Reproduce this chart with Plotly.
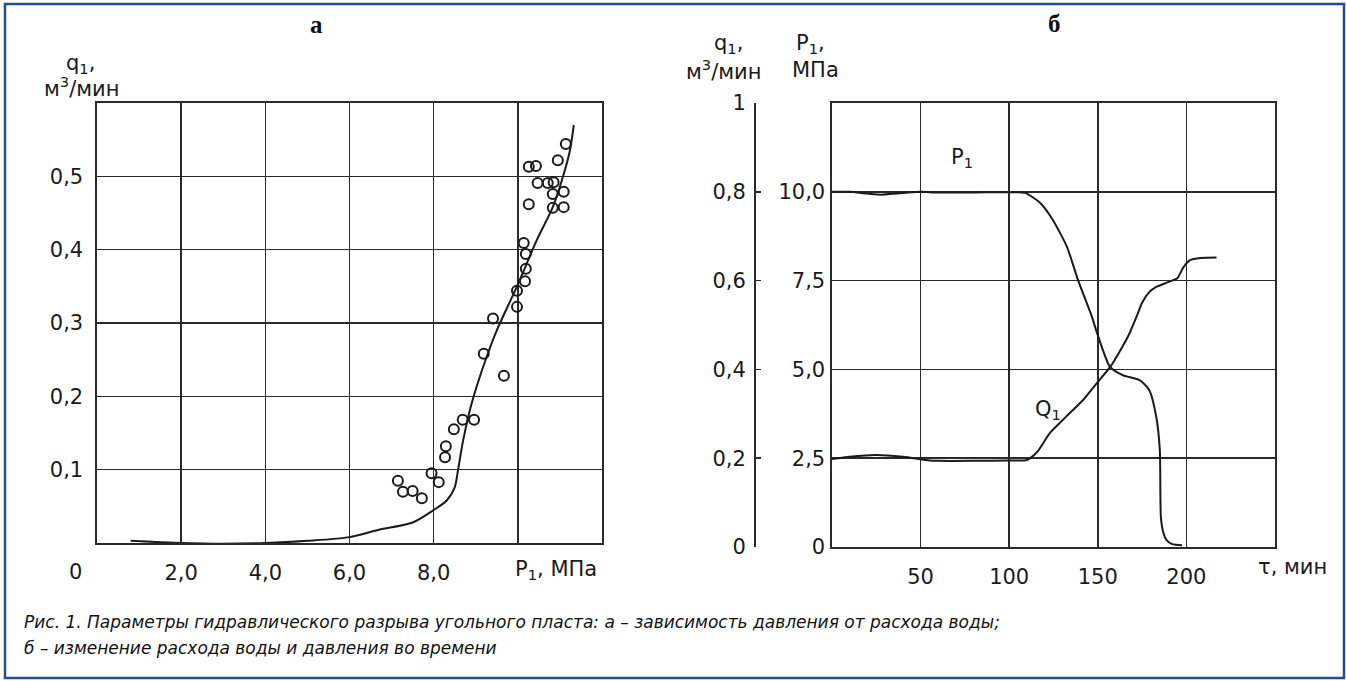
import plotly.graph_objects as go

W, H = 1346, 681

# ---------------- data: panel "а" ----------------
p_curve = [0.8, 2.0, 3.0, 4.0, 5.0, 6.0, 6.7, 7.5, 8.0, 8.31, 8.5, 8.58, 8.7, 8.86,
           9.02, 9.26, 9.5, 9.98, 10.45, 10.83, 11.1, 11.24, 11.33]
q_curve = [0.003, 0.0, -0.001, 0.0, 0.003, 0.008, 0.018, 0.028, 0.045, 0.058, 0.076, 0.1,
           0.14, 0.181, 0.213, 0.254, 0.29, 0.35, 0.413, 0.458, 0.505, 0.536, 0.570]

p_points = [7.15, 7.27, 7.5, 7.72, 7.95, 8.12, 8.27, 8.29, 8.48, 8.69, 8.96, 9.19, 9.67,
            9.41, 9.98, 9.98, 10.17, 10.19, 10.19, 10.14, 10.26, 10.47, 10.71, 10.85,
            10.83, 10.83, 11.09, 11.09, 10.26, 10.43, 10.95, 11.14]
q_points = [0.085, 0.07, 0.071, 0.061, 0.095, 0.083, 0.117, 0.132, 0.155, 0.168, 0.168,
            0.258, 0.228, 0.306, 0.322, 0.344, 0.357, 0.374, 0.394, 0.409, 0.462, 0.491,
            0.491, 0.492, 0.476, 0.457, 0.479, 0.458, 0.513, 0.514, 0.522, 0.544]

a_xticks = [2, 4, 6, 8, 10]
a_xlabels = ["2,0", "4,0", "6,0", "8,0", ""]
a_yticks = [0.1, 0.2, 0.3, 0.4, 0.5]
a_ylabels = ["0,1", "0,2", "0,3", "0,4", "0,5"]

# ---------------- data: panel "б" ----------------
t_p = [0, 10, 20, 28, 36, 45, 50, 60, 80, 100, 109, 117.4, 124.7, 132.6, 138.8, 146.7,
       149.6, 156.9, 164, 173.6, 179, 183, 185, 185.6, 187, 188.7, 192, 197.6]
p_vals = [10.0, 10.0, 9.95, 9.92, 9.95, 9.99, 10.0, 9.98, 9.98, 9.99, 9.97, 9.69, 9.2,
          8.45, 7.52, 6.48, 6.02, 5.07, 4.84, 4.70, 4.42, 3.66, 2.73, 0.84, 0.4, 0.2,
          0.08, 0.05]

t_q = [0, 10, 25, 40, 55, 60, 80, 100, 110, 116, 123, 132, 141.7, 149, 156.9, 163, 168,
       172, 175, 179, 183, 190, 195, 198, 202, 208, 217]
q_vals = [0.198, 0.203, 0.207, 0.203, 0.195, 0.194, 0.194, 0.195, 0.196, 0.215, 0.257,
          0.293, 0.331, 0.367, 0.405, 0.445, 0.482, 0.52, 0.55, 0.574, 0.586, 0.597,
          0.606, 0.628, 0.646, 0.651, 0.652]

b_xticks = [50, 100, 150, 200]
b_xlabels = ["50", "100", "150", "200"]
b_pticks = [0, 2.5, 5, 7.5, 10]
b_plabels = ["0", "2,5", "5,0", "7,5", "10,0"]
b_qticks = [0, 0.2, 0.4, 0.6, 0.8, 1.0]
b_qlabels = ["0", "0,2", "0,4", "0,6", "0,8", "1"]


def fx(px):
    return px / W


def fy(py):
    return 1 - py / H


FONT = "DejaVu Sans"
INK = "#1a1a1a"
GRID = "#2a2a2a"
tickfont = dict(family=FONT, size=21, color=INK)

fig = go.Figure()

fig.add_trace(go.Scatter(x=p_curve, y=q_curve, mode="lines",
                         line=dict(color=INK, width=2, shape="spline", smoothing=0.8),
                         xaxis="x", yaxis="y", showlegend=False))
fig.add_trace(go.Scatter(x=p_points, y=q_points, mode="markers",
                         marker=dict(symbol="circle-open", size=10, color=INK,
                                     line=dict(width=2, color=INK)),
                         xaxis="x", yaxis="y", showlegend=False))
fig.add_trace(go.Scatter(x=t_p, y=p_vals, mode="lines",
                         line=dict(color=INK, width=2, shape="spline", smoothing=0.6),
                         xaxis="x2", yaxis="y2", showlegend=False))
fig.add_trace(go.Scatter(x=t_q, y=q_vals, mode="lines",
                         line=dict(color=INK, width=2, shape="spline", smoothing=0.6),
                         xaxis="x2", yaxis="y3", showlegend=False))

axis_common = dict(showline=True, linecolor=GRID, linewidth=1.6, mirror=True,
                   showgrid=True, gridcolor=GRID, gridwidth=1.6, zeroline=False,
                   ticks="", tickfont=tickfont, fixedrange=True, automargin=False)

fig.update_layout(
    width=W, height=H, autosize=False,
    margin=dict(l=0, r=0, t=0, b=0, pad=0),
    paper_bgcolor="white", plot_bgcolor="white",
    xaxis=dict(domain=[fx(97), fx(602)], range=[0, 12], anchor="y",
               tickmode="array", tickvals=a_xticks, ticktext=a_xlabels,
               ticklabelstandoff=10, **axis_common),
    yaxis=dict(domain=[fy(543), fy(103)], range=[0, 0.6], anchor="x",
               tickmode="array", tickvals=a_yticks, ticktext=a_ylabels,
               ticklabelstandoff=8, **axis_common),
    xaxis2=dict(domain=[fx(832), fx(1275)], range=[0, 250], anchor="y2",
                tickmode="array", tickvals=b_xticks, ticktext=b_xlabels,
                ticklabelstandoff=10, **axis_common),
    yaxis2=dict(domain=[fy(547), fy(103)], range=[0, 12.5], anchor="x2",
                tickmode="array", tickvals=b_pticks, ticktext=b_plabels,
                ticklabelstandoff=1, **axis_common),
    yaxis3=dict(overlaying="y2", anchor="free", position=fx(754), side="left",
                range=[0, 1], tickmode="array", tickvals=b_qticks, ticktext=b_qlabels,
                showline=True, linecolor=GRID, linewidth=1.6, showgrid=False,
                zeroline=False, ticks="inside", ticklen=5, tickwidth=1.6,
                tickcolor=GRID, tickfont=tickfont, ticklabelstandoff=4,
                fixedrange=True, automargin=False),
)

txt = dict(family=FONT, size=21, color=INK)
ann = []


def add_text(x, y, text, font=txt, xanchor="center", yanchor="middle"):
    ann.append(dict(x=fx(x), y=fy(y), xref="paper", yref="paper", text=text,
                    showarrow=False, font=font, xanchor=xanchor, yanchor=yanchor))


title_font = dict(family="Liberation Serif", size=25, color="#111", weight="bold")
add_text(316, 25, "а", title_font)
add_text(1054, 23, "б", title_font)

# panel а labels
add_text(80, 64, "q<sub>1</sub>,")
add_text(82, 87, "м<sup>3</sup>/мин")
add_text(75, 572, "0")
add_text(556, 570, "P<sub>1</sub>, МПа")

# panel б labels
add_text(728, 44, "q<sub>1</sub>,")
add_text(724, 70, "м<sup>3</sup>/мин")
add_text(810, 44, "P<sub>1</sub>,")
add_text(815, 70, "МПа")
add_text(1292, 567, "τ, мин")
add_text(962, 158, "P<sub>1</sub>")
add_text(1048, 410, "Q<sub>1</sub>")

cap_font = dict(family=FONT, size=17, color="#111", style="italic")
add_text(22, 622, "Рис. 1. Параметры гидравлического разрыва угольного пласта: "
         "а – зависимость давления от расхода воды;", cap_font, xanchor="left")
add_text(22, 648, "б – изменение расхода воды и давления во времени", cap_font,
         xanchor="left")

fig.update_layout(annotations=ann)

fig.add_shape(type="rect", xref="paper", yref="paper",
              x0=fx(5), x1=fx(1344), y0=fy(678), y1=fy(4),
              line=dict(color="#1f4e93", width=2.5), fillcolor="rgba(0,0,0,0)")

# remove the default page margin so the figure sits at the window's top-left corner
page_fix = ("document.body.style.margin='0';"
            "document.body.style.padding='0';"
            "document.body.style.overflow='hidden';")

fig.write_html("out.html", post_script=page_fix,
               config={"displayModeBar": False, "staticPlot": True})
